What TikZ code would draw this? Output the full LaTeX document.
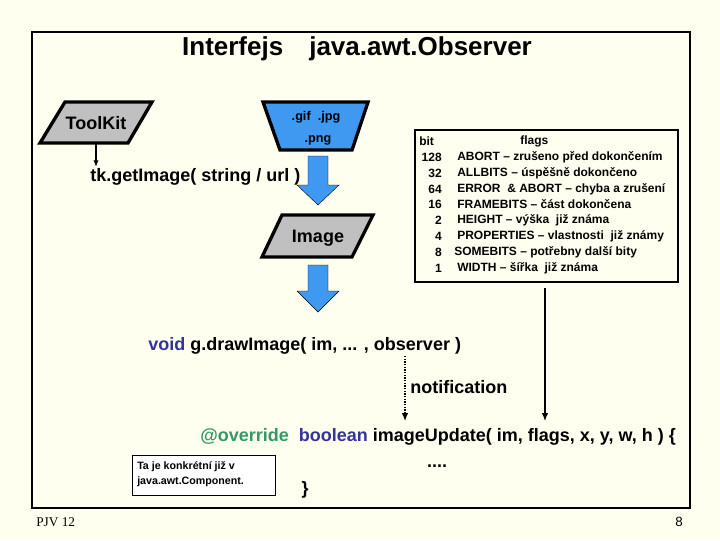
\documentclass[tikz,border=0pt]{standalone}
\usepackage{fontspec}
\setmainfont{Liberation Sans}
\newfontfamily\serifff{Liberation Serif}
\usetikzlibrary{arrows.meta}
\definecolor{bg}{HTML}{FFFFF0}
\definecolor{blueish}{HTML}{3F99F0}
\definecolor{graybox}{HTML}{C0C0C0}
\definecolor{kw}{HTML}{333399}
\definecolor{ann}{HTML}{339966}
\tikzset{
 shp/.style={draw=black,line width=2.5pt,line join=miter},
 bigt/.style={font=\bfseries\fontsize{13.5}{15}\selectfont,inner sep=0pt},
 tbl/.style={font=\bfseries\fontsize{9}{10}\selectfont,inner sep=0pt,anchor=west},
 barrow/.style={fill=blueish,draw=black,line width=0.3pt}
}
\begin{document}
\begin{tikzpicture}[x=0.75pt,y=-0.75pt]
\useasboundingbox (0,0) rectangle (720,540);
\fill[bg] (0,0) rectangle (720,540);
\draw[line width=1.5pt] (32,32) rectangle (690,508);
\node[font=\bfseries\fontsize{19.5}{22}\selectfont,inner sep=0pt] (title) at (357,49) {Interfejs\quad java.awt.Observer};
% ToolKit
\draw[shp,fill=graybox] (65,102) -- (152,102) -- (128,143) -- (40,143) -- cycle;
\node[bigt] (tk) at (96,123) {ToolKit};
\coordinate (tkb) at (96,143);
\node[bigt,anchor=west] (get) at (90,177) {tk.getImage( string / url )};
\draw[-{Latex[length=5pt,width=4pt]},line width=1pt] (tkb) -- (96,167);
% trapezoid
\draw[shp,fill=blueish] (263,102) -- (368,102) -- (352,150) -- (280,150) -- cycle;
\node[font=\bfseries\fontsize{9.5}{10}\selectfont,inner sep=0pt] (gif) at (316,117) {.gif\ \ .jpg};
\node[font=\bfseries\fontsize{9.5}{10}\selectfont,inner sep=0pt] (png) at (318,140) {.png};
% arrow 1
\draw[barrow] (308,156) -- (328,156) -- (328,185) -- (339,185) -- (318,205) -- (297,185) -- (308,185) -- cycle;
% Image
\draw[shp,fill=graybox] (282,215) -- (373,215) -- (352,257) -- (262,257) -- cycle;
\node[bigt] (img) at (318,238) {Image};
% arrow 2
\draw[barrow] (308,265) -- (328,265) -- (328,291) -- (339,291) -- (318,312) -- (297,291) -- (308,291) -- cycle;
% table
\draw[line width=1pt] (415,130) rectangle (678,282);
\node[tbl] at (419,141) {bit};
\node[tbl] at (520,141) {flags};
\foreach \y/\n/\t in {157/128/ABORT -- zrušeno před dokončením,173/32/ALLBITS -- úspěšně dokončeno,189/64/ERROR \ \& ABORT -- chyba a zrušení,204/16/FRAMEBITS -- část dokončena,220/2/HEIGHT -- výška\ \ již známa,236/4/PROPERTIES -- vlastnosti\ \ již známy,268/1/WIDTH -- šířka\ \ již známa}{
 \node[tbl,anchor=east] at (442,\y) {\n};
 \node[tbl] at (457,\y) {\t};
}
\node[tbl,anchor=east] at (442,252) {8};
\node[tbl] at (454,252) {SOMEBITS -- potřebny další bity};
\coordinate (tblb) at (545,288);
\coordinate (flg) at (545,421);
\draw[-{Latex[length=6pt,width=5pt]},line width=1pt] (tblb) -- (flg);
% drawImage
\node[bigt,anchor=west] (draw) at (148,346) {\textcolor{kw}{void} g.drawImage( im, ... , observer )};
\coordinate (obs) at (405,356);
\coordinate (upd) at (405,421);
\draw[-{Latex[length=6pt,width=5pt]},line width=1pt,densely dotted] (obs) -- (upd);
\node[bigt,anchor=west] (notif) at (410,387) {notification};
\node[bigt,anchor=west] (upd2) at (200,437) {\textcolor{ann}{@override}\ \ \textcolor{kw}{boolean} imageUpdate( im, flags, x, y, w, h ) \{};
\draw[line width=0.6pt,fill=white] (132,455) rectangle (275,495);
\node[font=\bfseries\fontsize{8}{11}\selectfont,align=left,anchor=west,inner sep=0pt] (notet) at (137,474) {Ta je konkrétní již v\\java.awt.Component.};
\node[bigt] (dots) at (437,466) {....};
\node[bigt] (brace) at (305,490) {\}};
\node[font=\serifff\fontsize{10}{12}\selectfont,anchor=west,inner sep=0pt] (pjv) at (36,522) {PJV 12};
\node[font=\fontsize{10}{12}\selectfont,inner sep=0pt] (pg) at (679,522) {8};
\end{tikzpicture}
\end{document}
